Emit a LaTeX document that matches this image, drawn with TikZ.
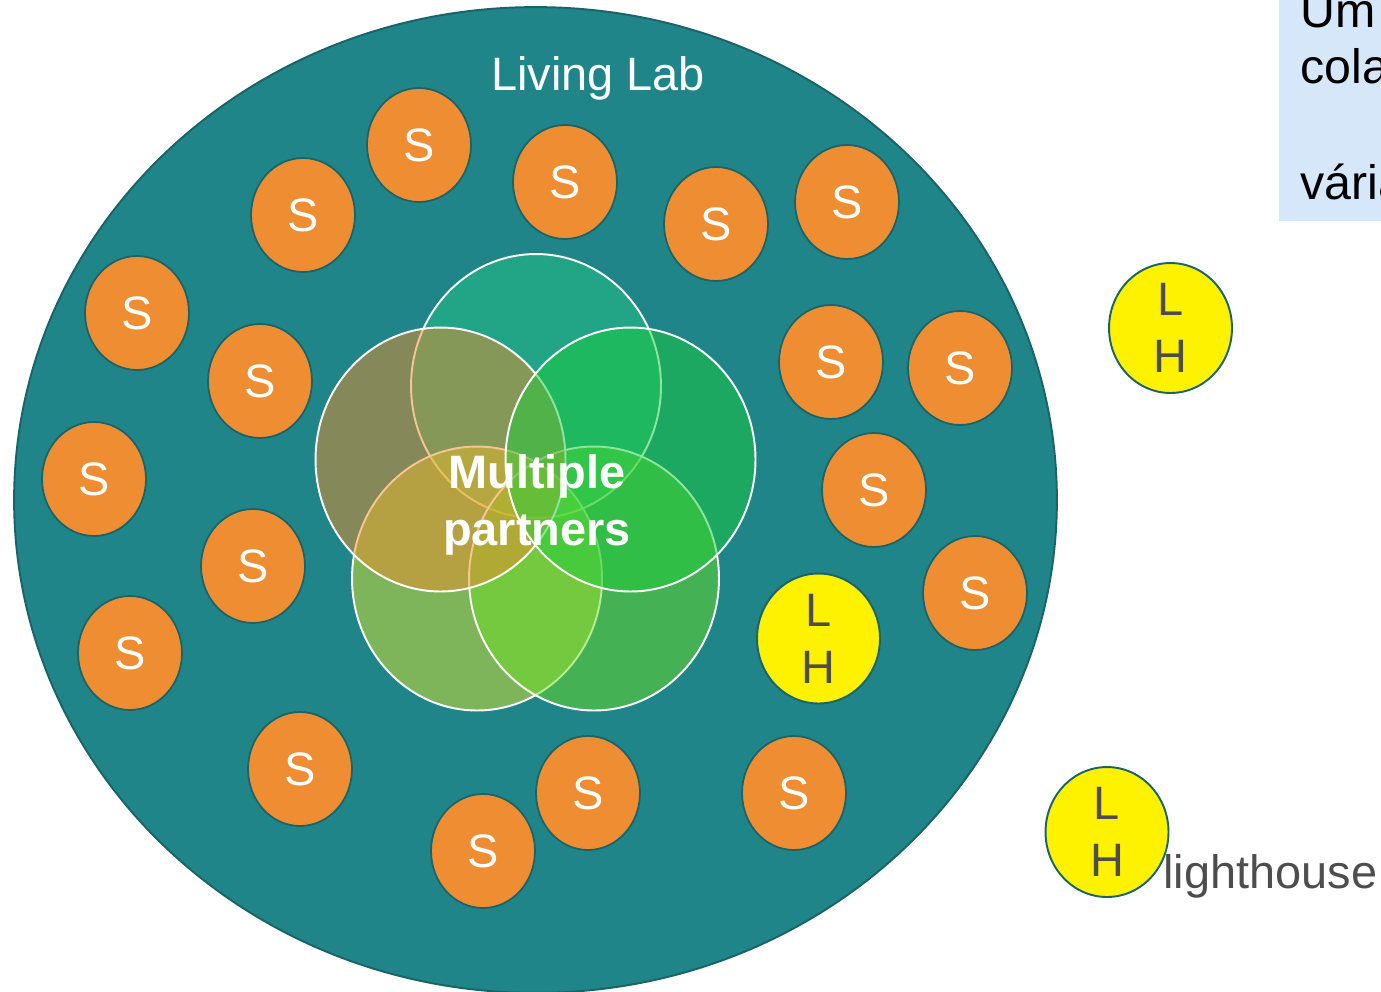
\documentclass[tikz,border=0pt]{standalone}
\usepackage{fontspec}
\setmainfont{Liberation Sans}
\usepackage{tikz}
\usetikzlibrary{shapes.geometric,positioning}
\definecolor{labteal}{RGB}{31,133,137}
\definecolor{labedge}{RGB}{26,100,104}
\definecolor{sorange}{RGB}{238,141,50}
\definecolor{lhgray}{RGB}{77,77,77}
\definecolor{notebox}{RGB}{213,231,248}
\definecolor{ptop}{RGB}{35,198,133}
\definecolor{pleft}{RGB}{236,140,43}
\definecolor{pright}{RGB}{29,204,59}
\definecolor{pbotl}{RGB}{223,230,45}
\definecolor{pbotr}{RGB}{107,222,35}
\newcommand{\bigtext}{\fontsize{26.7}{32.4}\selectfont}
\tikzset{
  sbox/.style={ellipse, draw=labedge, line width=1pt, fill=sorange,
    minimum width=2.08cm, minimum height=2.28cm, inner sep=0pt,
    text=white, font=\bigtext},
  lhbox/.style={ellipse, draw=labedge, line width=1.1pt, fill=yellow,
    minimum width=2.46cm, minimum height=2.6cm, inner sep=0pt,
    align=center, text=lhgray, font=\bigtext},
  partner/.style={ellipse, draw=white, line width=1.1pt, fill opacity=0.5,
    minimum width=5cm, minimum height=5.28cm, inner sep=0pt},
  notetext/.style={anchor=base west, inner sep=0pt, font=\fontsize{27.5}{33}\selectfont}
}
\begin{document}
\begin{tikzpicture}[x=0.02cm,y=-0.02cm]
\path[use as bounding box, clip] (0,0) rectangle (1381,991);
% living lab
\node[ellipse, draw=labedge, line width=1.1pt, fill=labteal,
  minimum width=20.86cm, minimum height=19.72cm, inner sep=0pt] (lab) at (535.5,500) {};
\node[anchor=base, text=white, font=\bigtext] (labname) at (598,90) {Living Lab};
% stakeholders
\foreach \x/\y [count=\i] in {419/145,565/182,303/215,716/224,847/202,
  137/313,260/381,831/362,960/368,94/479,874/490,253/566,975/593,
  130/653,300/769,588/793,794/793,483/851}
  \node[sbox] (s\i) at (\x,\y) {S};
% partners
\node[partner, fill=ptop] (ptop) at (536,386) {};
\node[partner, fill=pbotl] (pbotl) at (477,578.5) {};
\node[partner, fill=pbotr] (pbotr) at (594,578.5) {};
\node[partner, fill=pleft] (pleft) at (440.5,459.5) {};
\node[partner, fill=pright] (pright) at (630.5,459.5) {};
\node[align=center, text=white, font=\bigtext\bfseries] (partners) at (537,505) {Multiple\\partners};
% lighthouses
\node[lhbox] (lh1) at (818.5,638.5) {L\\H};
\node[lhbox] (lh2) at (1170.5,328) {L\\H};
\node[anchor=base west, text=lhgray, font=\bigtext, inner sep=0pt] (lhname) at (1163,888) {lighthouse};
\node[lhbox] (lh3) at (1107,832) {L\\H};
% note box
\fill[notebox] (1279,-10) rectangle (1400,221);
\node[notetext] (note1) at (1300,27) {Um};
\node[notetext] (note2) at (1300,83) {cola};
\node[notetext] (note3) at (1300,199) {vária};
\end{tikzpicture}
\end{document}
